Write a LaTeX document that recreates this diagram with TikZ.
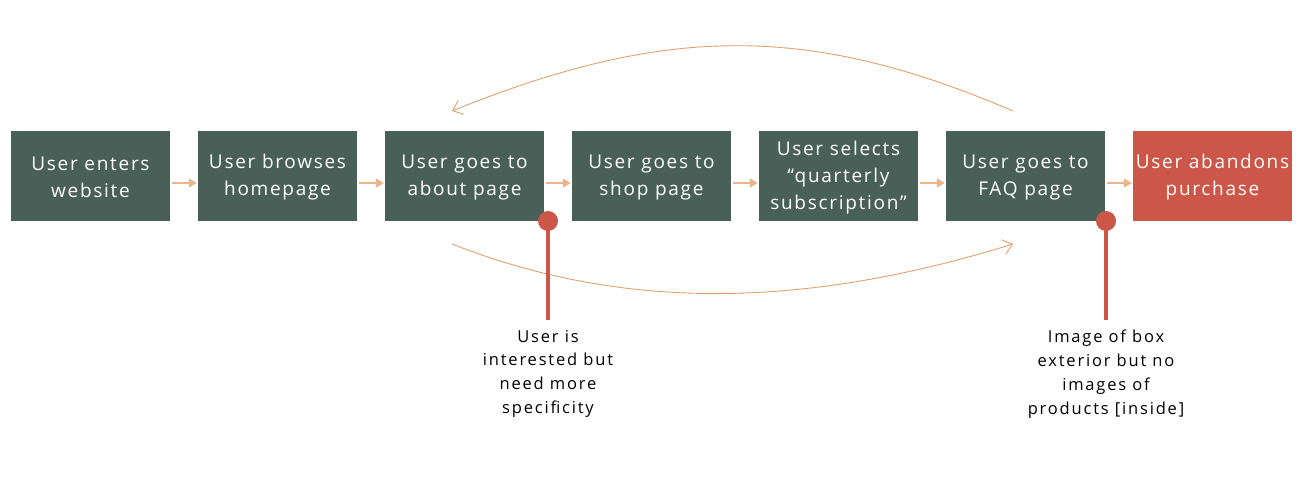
\documentclass[tikz,border=0pt]{standalone}
\usepackage{fontspec}
\setmainfont{Open Sans}
\newfontfamily\boxfont{Open Sans}[LetterSpace=9]
\newfontfamily\notefont{Open Sans}[LetterSpace=11]
\usetikzlibrary{arrows.meta}
\definecolor{boxgreen}{RGB}{73,96,89}
\definecolor{boxred}{RGB}{204,86,72}
\definecolor{arrorange}{RGB}{226,160,112}
\definecolor{arrlight}{RGB}{236,180,138}
\tikzset{
  stepbox/.style={fill=boxgreen, minimum width=159pt, minimum height=90pt, inner sep=0pt},
  endbox/.style={stepbox, fill=boxred},
  boxtext/.style={text=white, inner sep=0pt, align=center, font=\boxfont\fontsize{19}{27}\selectfont},
  flow/.style={draw=arrlight, line width=1.4pt, -{Triangle[length=8pt,width=9pt]}},
  loop/.style={draw=arrorange, line width=0.9pt, -{Straight Barb[length=9pt,width=15pt]}},
  pinline/.style={draw=boxred, line width=4pt},
  pindot/.style={circle, fill=boxred, minimum size=20pt, inner sep=0pt},
  note/.style={align=center, font=\notefont\fontsize{16.5}{23.8}\selectfont, text=black}
}
\newcommand{\stepnode}[4]{%
  \node[#1] (#2) at (#3,175.5) {};
  \node[boxtext] (#2t) at ([yshift=-2pt]#2.center) {#4};
}
\begin{document}
\begin{tikzpicture}[x=1pt,y=-1pt]
\useasboundingbox (0,0) rectangle (1311,477);
\stepnode{stepbox}{b1}{90.5}{User enters\\website}
\stepnode{stepbox}{b2}{277.5}{User browses\\homepage}
\stepnode{stepbox}{b3}{464.5}{User goes to\\about page}
\stepnode{stepbox}{b4}{651.5}{User goes to\\shop page}
\stepnode{stepbox}{b5}{838.5}{User selects\\“quarterly\\subscription”}
\stepnode{stepbox}{b6}{1025.5}{User goes to\\FAQ page}
\stepnode{endbox}{b7}{1212.5}{User abandons\\purchase}
\foreach \a/\b in {b1/b2,b2/b3,b3/b4,b4/b5,b5/b6,b6/b7}{
  \draw[flow] ([xshift=2pt,yshift=-7.5pt]\a.east) -- ([xshift=-1pt,yshift=-7.5pt]\b.east -| \b.west);
}
\coordinate (t1) at (1013,111);
\coordinate (t2) at (452,111);
\draw[loop] (t1) .. controls (810,24) and (667,24) .. (t2);
\coordinate (u1) at (452,244);
\coordinate (u2) at (1013,244);
\draw[loop] (u1) .. controls (620,310) and (800,310) .. (u2);
\node[pindot] (p1) at (548,221) {};
\coordinate (p1e) at (548,320);
\draw[pinline] (p1.center) -- (p1e);
\node[pindot] (p2) at (1106,221) {};
\coordinate (p2e) at (1106,320);
\draw[pinline] (p2.center) -- (p2e);
\node[note, anchor=north] (n1) at (548,326.5) {User is\\interested but\\need more\\specificity};
\node[note, anchor=north] (n2) at (1106,326.5) {Image of box\\exterior but no\\images of\\products [inside]};
\end{tikzpicture}
\end{document}
